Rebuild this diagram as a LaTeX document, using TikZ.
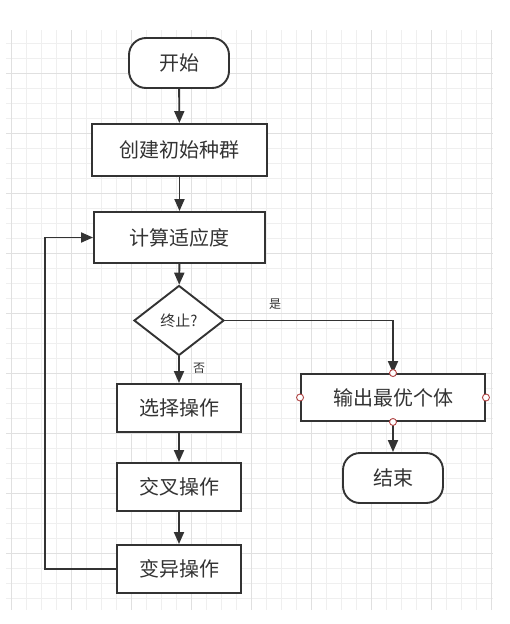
\documentclass[tikz,border=0pt]{standalone}
\usepackage{fontspec}
\setmainfont{Noto Sans CJK SC}
\usepackage{xcolor}
\usepackage{tikz}
\usetikzlibrary{arrows.meta,shapes.geometric}
\definecolor{ink}{HTML}{333333}
\definecolor{gridminor}{HTML}{EFEFEF}
\definecolor{gridmajor}{HTML}{E0E0E0}
\definecolor{portred}{HTML}{B04444}
\tikzset{
  term/.style={draw=ink, fill=white, line width=1.9pt, rounded corners=17pt,
    minimum width=100pt, minimum height=50pt, text=ink, font=\fontsize{20}{24}\selectfont},
  proc/.style={draw=ink, fill=white, line width=1.9pt, inner sep=0pt,
    text=ink, font=\fontsize{20}{24}\selectfont},
  cond/.style={diamond, draw=ink, fill=white, line width=1.9pt, inner sep=0pt,
    minimum width=90pt, minimum height=70pt, text=ink, font=\fontsize{15}{18}\selectfont},
  flow/.style={draw=ink, line width=1.9pt, -{Triangle[length=12pt,width=10pt]}},
  minorline/.style={draw=gridminor, line width=1pt},
  majorline/.style={draw=gridmajor, line width=1pt},
  portdot/.style={circle, draw=portred, fill=white, line width=0.9pt, inner sep=0pt, minimum size=7pt},
  lbl/.style={text=ink, font=\fontsize{12}{14}\selectfont}
}

\begin{document}
\begin{tikzpicture}[x=1pt,y=-1pt]
  \useasboundingbox (0,0) rectangle (510,624);

  % grid
  \foreach \i in {0,...,32}
    \draw[minorline] ({11.7+15*\i},30) -- ({11.7+15*\i},610);
  \foreach \j in {0,...,37}
    \draw[minorline] (6,{43.3+15*\j}) -- (493,{43.3+15*\j});
  \foreach \i in {0,4,...,32}
    \draw[majorline] ({11.7+15*\i},30) -- ({11.7+15*\i},610);
  \foreach \j in {2,6,...,34}
    \draw[majorline] (6,{43.3+15*\j}) -- (493,{43.3+15*\j});

  % nodes
  \node[term] (start) at (179,63) {开始};
  \node[proc, minimum width=175pt, minimum height=52pt] (init) at (179.5,150) {创建初始种群};
  \node[proc, minimum width=171pt, minimum height=51pt] (fit) at (179.5,237.5) {计算适应度};
  \node[cond] (stop) at (179,320.5) {终止?};
  \node[proc, minimum width=124pt, minimum height=48pt] (sel) at (179,408) {选择操作};
  \node[proc, minimum width=124pt, minimum height=48pt] (cross) at (179,487) {交叉操作};
  \node[proc, minimum width=124pt, minimum height=48pt] (mut) at (179,569) {变异操作};
  \node[proc, minimum width=184pt, minimum height=47pt] (best) at (393,397.5) {输出最优个体};
  \node[term] (finish) at (393,478) {结束};

  \coordinate (back) at (45,569);

  % connectors
  \draw[flow] (start) -- (init);
  \draw[flow] (init) -- (fit);
  \draw[flow] (fit) -- (stop);
  \draw[flow] (stop) -- (sel);
  \draw[flow] (sel) -- (cross);
  \draw[flow] (cross) -- (mut);
  \draw[flow] (mut.west) -- (back) |- (fit.west);
  \draw[flow] (stop.east) -| (best.north);
  \draw[flow] (best) -- (finish);

  \node[lbl] (yes) at (275,304) {是};
  \node[lbl] (no) at (199,368) {否};

  % ports of the output box
  \node[portdot] at (best.north) {};
  \node[portdot] at (best.south) {};
  \node[portdot] at (best.west) {};
  \node[portdot] at (best.east) {};
\end{tikzpicture}
\end{document}
